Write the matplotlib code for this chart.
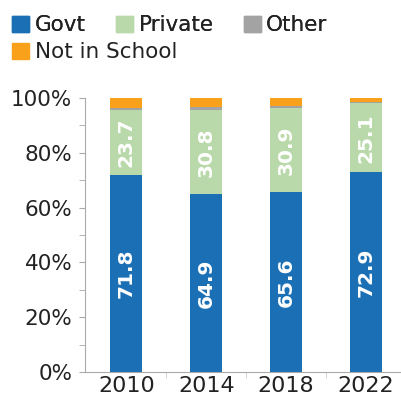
import matplotlib
matplotlib.use("Agg")
import matplotlib.pyplot as plt
from matplotlib.patches import Patch
from matplotlib.ticker import MultipleLocator, FuncFormatter

years = ["2010", "2014", "2018", "2022"]
govt = [71.8, 64.9, 65.6, 72.9]
private = [23.7, 30.8, 30.9, 25.1]
other = [1.0, 1.0, 0.7, 0.4]
not_in_school = [3.5, 3.3, 2.8, 1.6]

c_govt = "#1b6fb5"
c_priv = "#b9d9ab"
c_other = "#a3a3a3"
c_nis = "#f9a11b"

plt.rcParams['font.family'] = ['DejaVu Sans']

fig = plt.figure(figsize=(4.02, 4.03), dpi=100)
ax = fig.add_axes([0.211, 0.077, 0.789, 0.68])

x = list(range(len(years)))
w = 0.4
b1 = govt
b2 = [g + p for g, p in zip(govt, private)]
b3 = [a + o for a, o in zip(b2, other)]
ax.bar(x, govt, w, color=c_govt)
ax.bar(x, private, w, bottom=b1, color=c_priv)
ax.bar(x, other, w, bottom=b2, color=c_other)
ax.bar(x, not_in_school, w, bottom=b3, color=c_nis)

for i in x:
    ax.text(i, govt[i] / 2, f"{govt[i]:.1f}", rotation=90, ha="center", va="center",
            color="white", fontsize=14.5, fontweight="bold")
    ax.text(i, govt[i] + private[i] / 2, f"{private[i]:.1f}", rotation=90, ha="center",
            va="center", color="white", fontsize=14.5, fontweight="bold")

ax.set_xlim(-0.52, 3.45)
ax.set_ylim(0, 100)
ax.set_xticks(x)
ax.set_xticklabels(years)
ax.set_xticks([0.5, 1.5, 2.5], minor=True)
ax.yaxis.set_major_locator(MultipleLocator(20))
ax.yaxis.set_minor_locator(MultipleLocator(10))
ax.yaxis.set_major_formatter(FuncFormatter(lambda v, p: f"{int(v)}%"))
for s in ["top", "right"]:
    ax.spines[s].set_visible(False)
for s in ["left", "bottom"]:
    ax.spines[s].set_color("#aaaaaa")
    ax.spines[s].set_linewidth(0.8)
ax.tick_params(axis="y", which="both", length=4, color="#aaaaaa", labelsize=15.5,
               labelcolor="#222222", pad=5)
ax.tick_params(axis="x", which="major", length=0, labelsize=16, labelcolor="#222222", pad=3)
ax.tick_params(axis="x", which="minor", length=4, color="#cccccc")

leg_kw = dict(frameon=False, fontsize=15.5, handlelength=0.8, handleheight=0.8,
              handletextpad=0.25, borderpad=0, borderaxespad=0, labelcolor="#222222")
h1 = [Patch(color=c_govt, label="Govt"), Patch(color=c_priv, label="Private"),
      Patch(color=c_other, label="Other")]
h2 = [Patch(color=c_nis, label="Not in School")]
l1 = fig.legend(handles=h1, loc="center left", bbox_to_anchor=(0.03, 0.937), ncol=3,
                columnspacing=1.4, **leg_kw)
fig.add_artist(l1)
fig.legend(handles=h2, loc="center left", bbox_to_anchor=(0.03, 0.87), ncol=1, **leg_kw)

fig.savefig("out.png", dpi=100)
